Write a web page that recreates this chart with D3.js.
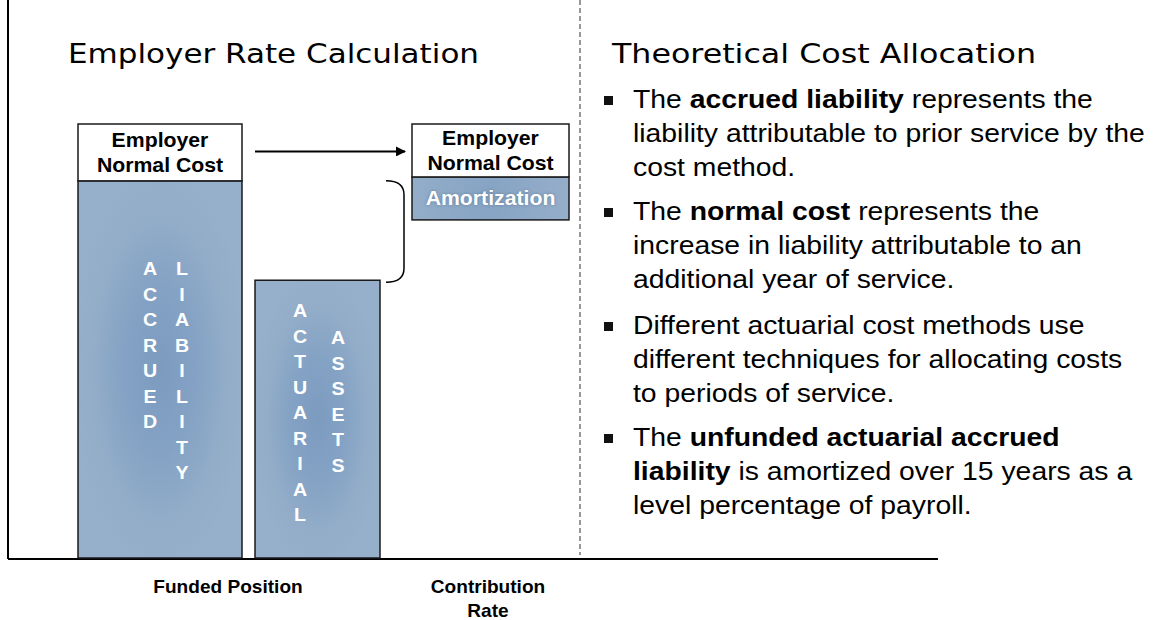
<!DOCTYPE html>
<html lang="en">
<head>
<script src="https://d3js.org/d3.v7.min.js"></script>
<style>
  body { margin: 0; background: #fff; font-family: "Liberation Sans", Arial, sans-serif; }
  svg { display: block; }
</style>
</head>
<body>
<div id="chart"></div>
<script>
// ---- data ----
var categories = ["Funded Position", "Contribution Rate"];
var categoryLines = [["Funded Position"], ["Contribution", "Rate"]];
// stacked pieces
var barNames = ["Accrued Liability", "Employer Normal Cost", "Actuarial Assets", "Amortization", "Employer Normal Cost"];
var barLeft  = [70, 70, 247, 404, 404];
var barRight = [234, 234, 372, 561, 561];
var barLow   = [0, 86.9, 0, 77.9, 87.8];
var barHigh  = [86.9, 100, 64, 87.8, 100];
var barKind  = ["blue", "white", "blue", "amort", "white"];
var verticalWords = [["ACCRUED", "LIABILITY"], null, ["ACTUARIAL", "ASSETS"], null, null];
var bullets = [
  [["The ", false], ["accrued liability", true], [" represents the", false], ["|", false],
   ["liability attributable to prior service by the", false], ["|", false], ["cost method.", false]],
  [["The ", false], ["normal cost", true], [" represents the", false], ["|", false],
   ["increase in liability attributable to an", false], ["|", false], ["additional year of service.", false]],
  [["Different actuarial cost methods use", false], ["|", false],
   ["different techniques for allocating costs", false], ["|", false], ["to periods of service.", false]],
  [["The ", false], ["unfunded actuarial accrued", true], ["|", false],
   ["liability", true], [" is amortized over 15 years as a", false], ["|", false], ["level percentage of payroll.", false]]
];

var W = 1157, H = 620;
var SX = 1.09; // the reference text is slightly stretched horizontally
var svg = d3.select("#chart").append("svg").attr("width", W).attr("height", H);

function label(px, py, str, size, anchor, bold, fill) {
  return svg.append("text")
    .attr("transform", "translate(" + px + "," + py + ") scale(" + SX + ",1)")
    .attr("text-anchor", anchor || "start")
    .attr("font-size", size)
    .attr("font-weight", bold ? "bold" : "normal")
    .attr("fill", fill || "#000")
    .text(str);
}

var defs = svg.append("defs");
var grad = defs.append("radialGradient").attr("id", "blueGlow")
  .attr("cx", "50%").attr("cy", "50%").attr("r", "55%");
grad.append("stop").attr("offset", "0%").attr("stop-color", "#7b9bbf");
grad.append("stop").attr("offset", "40%").attr("stop-color", "#84a2c4");
grad.append("stop").attr("offset", "75%").attr("stop-color", "#93adc9");
grad.append("stop").attr("offset", "100%").attr("stop-color", "#96afca");
var grad2 = defs.append("linearGradient").attr("id", "amortFill")
  .attr("x1", "0").attr("x2", "1").attr("y1", "0").attr("y2", "0");
grad2.append("stop").attr("offset", "0%").attr("stop-color", "#93adc9");
grad2.append("stop").attr("offset", "50%").attr("stop-color", "#87a4c4");
grad2.append("stop").attr("offset", "100%").attr("stop-color", "#95aeca");

// scales
var x = d3.scaleLinear().domain([0, 930]).range([8, 938]);
var y = d3.scaleLinear().domain([0, 100]).range([558, 124]);

// axes lines
svg.append("line").attr("x1", 8).attr("x2", 8).attr("y1", 0).attr("y2", 559)
  .attr("stroke", "#000").attr("stroke-width", 2);
svg.append("line").attr("x1", 8).attr("x2", 938).attr("y1", 559).attr("y2", 559)
  .attr("stroke", "#000").attr("stroke-width", 2);

// dashed divider
svg.append("line").attr("x1", x(572)).attr("x2", x(572)).attr("y1", 0).attr("y2", 555)
  .attr("stroke", "#333").attr("stroke-width", 1).attr("stroke-dasharray", "5,3");

// titles
svg.append("text").attr("x", 68).attr("y", 63)
  .attr("font-family", "DejaVu Sans, Verdana, sans-serif").attr("font-size", 26)
  .attr("textLength", 411).attr("lengthAdjust", "spacingAndGlyphs")
  .text("Employer Rate Calculation");
svg.append("text").attr("x", 612).attr("y", 63)
  .attr("font-family", "DejaVu Sans, Verdana, sans-serif").attr("font-size", 26)
  .attr("textLength", 424).attr("lengthAdjust", "spacingAndGlyphs")
  .text("Theoretical Cost Allocation");

// bars
var idx = d3.range(barNames.length);
svg.selectAll("rect.bar").data(idx).enter().append("rect")
  .attr("class", "bar")
  .attr("x", function(i) { return x(barLeft[i]); })
  .attr("width", function(i) { return x(barRight[i]) - x(barLeft[i]); })
  .attr("y", function(i) { return y(barHigh[i]); })
  .attr("height", function(i) { return y(barLow[i]) - y(barHigh[i]); })
  .attr("fill", function(i) {
    return barKind[i] === "white" ? "#fff" : barKind[i] === "amort" ? "url(#amortFill)" : "url(#blueGlow)";
  })
  .attr("stroke", "#1a1a1a").attr("stroke-width", 1.5);

// labels in boxes
idx.forEach(function(i) {
  var cx = (x(barLeft[i]) + x(barRight[i])) / 2;
  var top = y(barHigh[i]), bot = y(barLow[i]);
  if (barKind[i] === "white") {
    var mid = (top + bot) / 2;
    label(cx, mid - 5, "Employer", 19.5, "middle", true);
    label(cx, mid + 20, "Normal Cost", 19.5, "middle", true);
  } else if (barKind[i] === "amort") {
    label(cx, (top + bot) / 2 + 7, barNames[i], 19.5, "middle", true, "#fff")
      .style("text-shadow", "0 0 3px rgba(60,80,110,0.5)");
  } else if (verticalWords[i]) {
    var words = verticalWords[i];
    var isFirst = i === 0;
    var colX = isFirst ? [150, 182] : [300, 338];
    var startY = isFirst ? [275, 275] : [317, 344];
    words.forEach(function(w, k) {
      w.split("").forEach(function(ch, j) {
        label(colX[k], startY[k] + j * 25.5, ch, 18, "middle", true, "#fff");
      });
    });
  }
});

// arrow from left normal cost to right normal cost
defs.append("marker").attr("id", "arrowHead").attr("viewBox", "0 0 10 10")
  .attr("refX", 9).attr("refY", 5).attr("markerWidth", 5).attr("markerHeight", 5)
  .attr("orient", "auto")
  .append("path").attr("d", "M0,0 L10,5 L0,10 z").attr("fill", "#000");
var ncY = (y(barHigh[1]) + y(barLow[1])) / 2 - 1;
svg.append("line").attr("x1", x(barRight[1]) + 13).attr("x2", x(barLeft[4]) - 7)
  .attr("y1", ncY).attr("y2", ncY)
  .attr("stroke", "#000").attr("stroke-width", 2).attr("marker-end", "url(#arrowHead)");

// brace between liability top and assets top
var bx0 = x(barRight[2]) + 6, bx1 = x(barRight[2]) + 24;
var by0 = y(barHigh[0]), by1 = y(barHigh[2]) + 2;
svg.append("path")
  .attr("d", "M" + bx0 + "," + by0 + " Q" + bx1 + "," + by0 + " " + bx1 + "," + (by0 + 14) +
    " L" + bx1 + "," + (by1 - 14) + " Q" + bx1 + "," + by1 + " " + bx0 + "," + by1)
  .attr("fill", "none").attr("stroke", "#000").attr("stroke-width", 1.5);

// category labels
var catX = [228, 488];
categories.forEach(function(c, i) {
  categoryLines[i].forEach(function(line, k) {
    label(catX[i], 593 + k * 24, line, 17.5, "middle", true);
  });
});

// bullets
var bulletTop = [108, 220, 334, 446];
bullets.forEach(function(b, i) {
  svg.append("rect").attr("x", 604).attr("y", bulletTop[i] - 12).attr("width", 9).attr("height", 9)
    .attr("fill", "#111");
  var line = 0;
  var t = svg.append("text").attr("font-size", 26).attr("fill", "#000")
    .attr("transform", "translate(633,0) scale(" + SX + ",1)");
  var first = true;
  b.forEach(function(seg) {
    if (seg[0] === "|") {
      line++;
      first = true;
      return;
    }
    var s = t.append("tspan").text(seg[0]).attr("font-weight", seg[1] ? "bold" : "normal");
    if (first) { s.attr("x", 0).attr("y", bulletTop[i] + line * 34); first = false; }
  });
});
</script>
</body>
</html>
